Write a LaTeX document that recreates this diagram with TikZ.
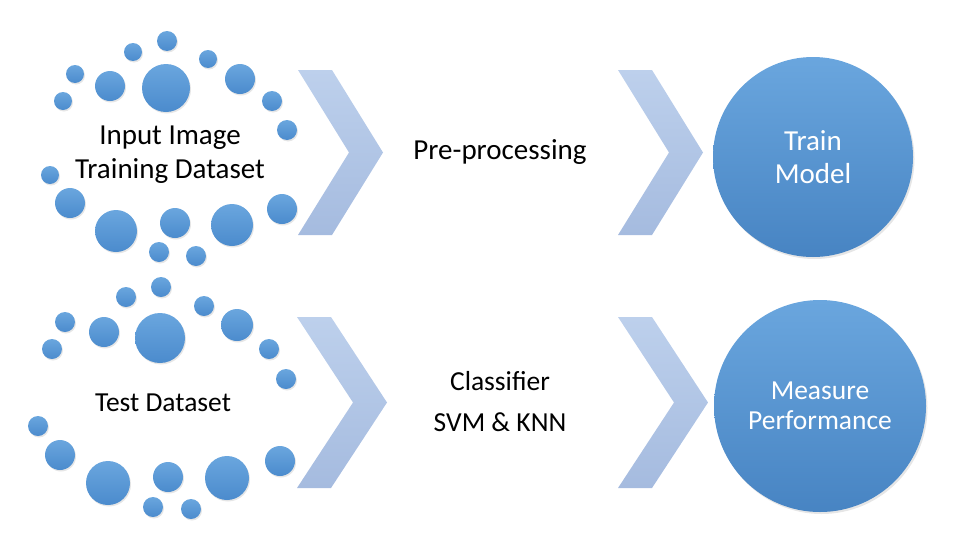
\documentclass[tikz,border=0pt]{standalone}
\usepackage{fontspec}
\setmainfont{Carlito}
\usetikzlibrary{shadows}
\definecolor{dottop}{HTML}{6AA6DE}
\definecolor{dotbot}{HTML}{4B8BCD}
\definecolor{chevtop}{HTML}{BDD0EC}
\definecolor{chevbot}{HTML}{A5BBDF}
\begin{document}
\begin{tikzpicture}[x=1pt,y=-1pt,
    dot/.style={circle,inner sep=0pt,top color=dottop,bottom color=dotbot,
      drop shadow={opacity=0.2,shadow xshift=1pt,shadow yshift=-1.5pt}},
    chev/.style={top color=chevtop,bottom color=chevbot},
    bigdisc/.style={circle,inner sep=0pt,top color=dottop,bottom color=dotbot!95!black,
      text=white,align=center,
      drop shadow={opacity=0.2,shadow xshift=1.5pt,shadow yshift=-2pt}},
    label/.style={text=black,align=center}]

    \useasboundingbox (0,0) rectangle (955,533);

    % dots round the training data
    \foreach \x/\y/\r [count=\k] in {167/41/10, 133/52/9, 208/59/9, 75/74/9, 110/86/15,
        166/88/24, 240/79/15, 63/101/9, 272/101/10, 287/130/10, 50/175/9, 70/203/15,
        282/209/15, 116/231/21, 175/223/15, 232/225/21, 159/252/10, 196/256/10}{
        \node[dot,minimum size=2*\r] (train\k) at (\x,\y) {};
    }
    % dots round the test data
    \foreach \x/\y/\r [count=\k] in {161/287/10, 126/297/10, 204/306/10, 65/322/10, 104/332/15,
        160/338/25, 237/325/16, 52/349/10, 269/349/10, 286/379/10, 38/426/10, 60/455/15,
        280/461/15, 108/483/22, 168/477/15, 227/478/22, 153/507/10, 191/509/10}{
        \node[dot,minimum size=2*\r] (test\k) at (\x,\y) {};
    }

    % chevrons
    \foreach \cx/\top/\bot/\d in {298/70/235/51, 618/70/235/51, 297/317/488/56, 618/317/488/56}{
        \pgfmathsetmacro{\mid}{(\top+\bot)/2}
        \shade[chev] (\cx,\top) -- (\cx+34,\top) -- (\cx+34+\d,\mid) -- (\cx+34,\bot)
            -- (\cx,\bot) -- (\cx+\d,\mid) -- cycle;
    }

    \node[bigdisc,minimum size=200,font=\fontsize{29}{33}\selectfont] (model) at (813,157) {Train\\Model};
    \node[bigdisc,minimum size=212,font=\fontsize{27.5}{30}\selectfont] (measure) at (820,406) {Measure\\Performance};

    \node[label,font=\fontsize{29}{34}\selectfont] (input) at (170,155) {Input Image\\Training Dataset};
    \node[label,font=\fontsize{27.5}{33}\selectfont] (testset) at (163,403) {Test Dataset};
    \node[label,font=\fontsize{29}{34}\selectfont] (prep) at (500,152) {Pre-processing};
    \node[label,font=\fontsize{27.5}{41}\selectfont] (classifier) at (500,402) {Classifier\\SVM \& KNN};

\end{tikzpicture}
\end{document}
